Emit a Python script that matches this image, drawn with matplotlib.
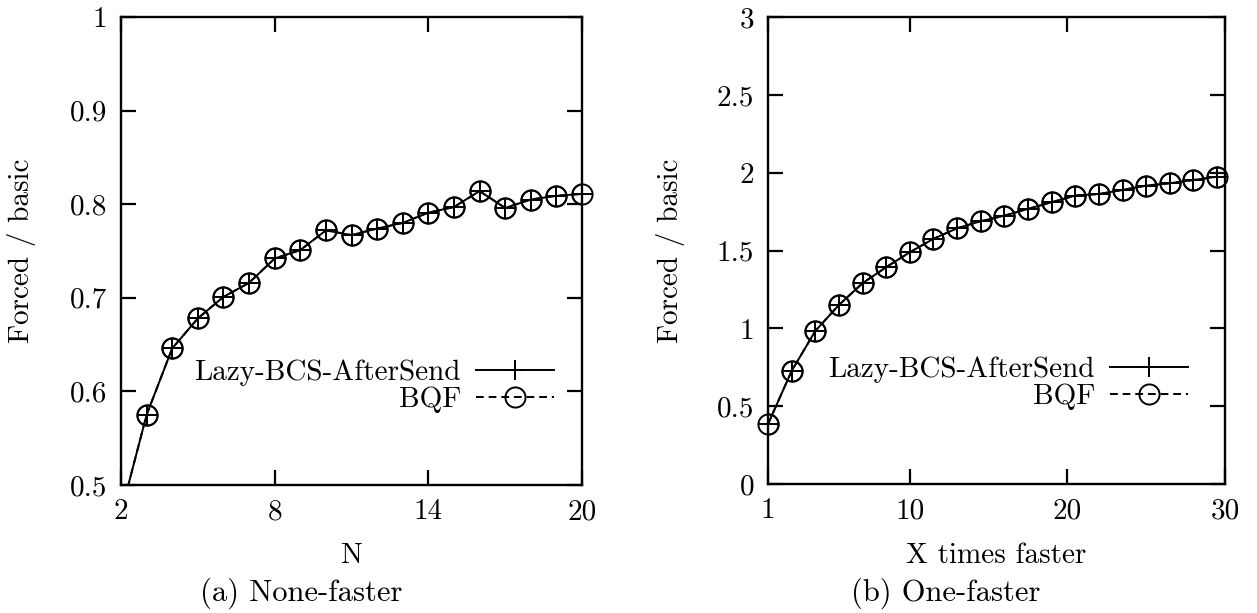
import numpy as np
import matplotlib
matplotlib.use("Agg")
import matplotlib.pyplot as plt

plt.rcParams["font.family"] = ["cmr10", "DejaVu Serif"]
plt.rcParams["axes.formatter.use_mathtext"] = True
plt.rcParams["mathtext.fontset"] = "cm"

# (a) None-faster: ratio vs number of processes N
n_values = [2, 3, 4, 5, 6, 7, 8, 9, 10, 11, 12, 13, 14, 15, 16, 17, 18, 19, 20]
none_lazy = [0.47, 0.575, 0.646, 0.678, 0.701, 0.716, 0.742, 0.751, 0.772, 0.767,
             0.774, 0.780, 0.791, 0.797, 0.814, 0.796, 0.805, 0.809, 0.811]
none_bqf = list(none_lazy)

# (b) One-faster: ratio vs speed factor of the fast process
x_faster = [1, 2.5, 4, 5.5, 7, 8.5, 10, 11.5, 13, 14.5, 16, 17.5, 19, 20.5,
            22, 23.5, 25, 26.5, 28, 29.5]
one_lazy = [0.385, 0.726, 0.983, 1.15, 1.29, 1.393, 1.489, 1.575, 1.643, 1.688,
            1.724, 1.767, 1.810, 1.853, 1.863, 1.889, 1.917, 1.932, 1.953, 1.974]
one_bqf = list(one_lazy)

left_xticks = [2, 8, 14, 20]
left_yticks = [0.5, 0.6, 0.7, 0.8, 0.9, 1.0]
left_yticklabels = ["0.5", "0.6", "0.7", "0.8", "0.9", "1"]
right_xticks = [1, 10, 20, 30]
right_yticks = [0, 0.5, 1, 1.5, 2, 2.5, 3]
right_yticklabels = ["0", "0.5", "1", "1.5", "2", "2.5", "3"]

W, H = 1257, 613
fig = plt.figure(figsize=(W / 100, H / 100), dpi=100)

FS = 21
MS = 14.5
LW = 1.4


def axes_px(x0, y0, x1, y1):
    return fig.add_axes([x0 / W, 1 - y1 / H, (x1 - x0) / W, (y1 - y0) / H])


def draw_panel(ax, x, lazy, bqf, xlim, ylim, xticks, yticks, yticklabels, xlabel,
               ylabel_x, xlabel_y, legend_anchor):
    ax.set_xlim(*xlim)
    ax.set_ylim(*ylim)
    ax.plot(x, lazy, color="black", lw=LW, marker="+", ms=MS, mew=LW,
            label="Lazy-BCS-AfterSend")
    ax.plot(x, bqf, color="black", lw=LW, dashes=(4, 2.5), marker="o", ms=MS,
            mew=LW, fillstyle="none", label="BQF")
    # markers lying inside the data range are drawn whole, even on the frame
    xa, la, ba = np.asarray(x), np.asarray(lazy), np.asarray(bqf)
    inside = (xa >= xlim[0]) & (xa <= xlim[1]) & (la >= ylim[0]) & (la <= ylim[1])
    ax.plot(xa[inside], la[inside], ls="none", color="black", marker="+", ms=MS,
            mew=LW, clip_on=False)
    ax.plot(xa[inside], ba[inside], ls="none", color="black", marker="o", ms=MS,
            mew=LW, fillstyle="none", clip_on=False)

    ax.set_xticks(xticks)
    ax.set_xticklabels([str(t) for t in xticks])
    ax.set_yticks(yticks)
    ax.set_yticklabels(yticklabels)
    ax.tick_params(direction="in", length=11, width=1.6, top=True, right=True,
                   labelsize=FS, pad=10)
    for s in ax.spines.values():
        s.set_linewidth(1.7)
    ax.set_xlabel(xlabel, fontsize=FS)
    ax.xaxis.set_label_coords(0.5, xlabel_y)
    ax.set_ylabel("Forced / basic", fontsize=FS)
    ax.yaxis.set_label_coords(ylabel_x, 0.5)
    leg = ax.legend(loc="center right", bbox_to_anchor=legend_anchor,
                    frameon=False, markerfirst=False, fontsize=FS,
                    handlelength=2.7, handletextpad=0.5, labelspacing=0.02,
                    borderaxespad=0)
    return leg


ax1 = axes_px(121, 17, 582, 485)
draw_panel(ax1, n_values, none_lazy, none_bqf, (2, 20), (0.5, 1.0), left_xticks,
           left_yticks, left_yticklabels, "N", (36 - 121) / 461, (485 - 543) / 468,
           ((566 - 121) / 461, 1 - (386 - 17) / 468))

ax2 = axes_px(768, 17, 1225, 484)
draw_panel(ax2, x_faster, one_lazy, one_bqf, (1, 30), (0, 3), right_xticks,
           right_yticks, right_yticklabels, "X times faster", (685 - 768) / 457,
           (484 - 543) / 467,
           ((1200 - 768) / 457, 1 - (383 - 17) / 467))

fig.text(301 / W, 1 - 593 / H, "(a) None-faster", ha="center", va="center",
         fontsize=FS + 1)
fig.text(946 / W, 1 - 593 / H, "(b) One-faster", ha="center", va="center",
         fontsize=FS + 1)

fig.savefig("out.png", dpi=100)
